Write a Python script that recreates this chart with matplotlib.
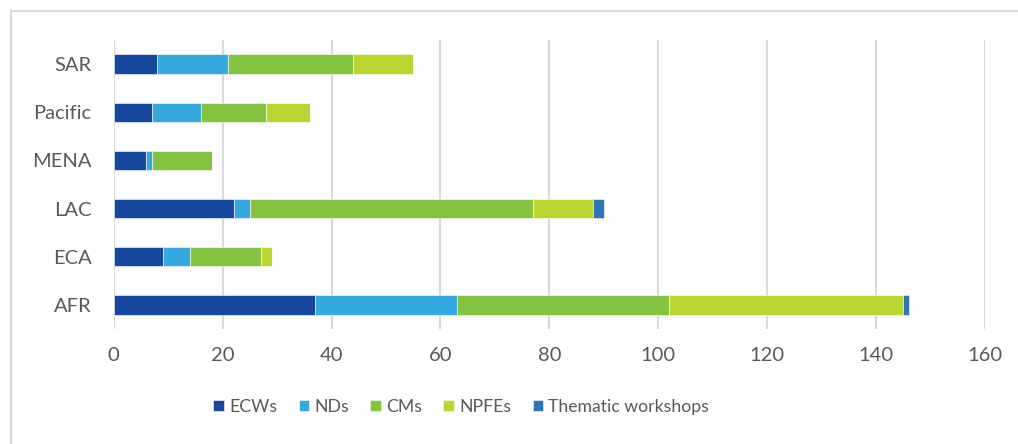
import numpy as np
import matplotlib.pyplot as plt
from matplotlib.lines import Line2D

# regions, bottom to top
regions = ["AFR", "ECA", "LAC", "MENA", "Pacific", "SAR"]
ecws = [37, 9, 22, 6, 7, 8]
nds = [26, 5, 3, 1, 9, 13]
cms = [39, 13, 52, 11, 12, 23]
npfes = [43, 2, 11, 0, 8, 11]
thematic = [1, 0, 2, 0, 0, 0]

series = [("ECWs", ecws, "#17479E"),
          ("NDs", nds, "#35A8DE"),
          ("CMs", cms, "#83C341"),
          ("NPFEs", npfes, "#BAD531"),
          ("Thematic workshops", thematic, "#2E75B6")]

plt.rcParams['font.family'] = ['Lato', 'DejaVu Sans']
fig = plt.figure(figsize=(10.18, 4.44), dpi=100)
ax = fig.add_axes([0.1117, 0.259, 0.8559, 0.651])

y = np.arange(len(regions))
left = np.zeros(len(regions))
for name, vals, col in series:
    ax.barh(y, vals, left=left, height=0.4, color=col, label=name,
            edgecolor='white', linewidth=0.4, zorder=3)
    left += np.array(vals)

ax.set_xlim(0, 160)
ax.set_ylim(-0.5, 5.5)
ax.set_xticks(range(0, 161, 20))
ax.set_yticks(y)
ax.set_yticklabels(regions)
ax.grid(axis='x', color='#D9D9D9', linewidth=1.5, zorder=0)
for s in ax.spines.values():
    s.set_visible(False)
ax.tick_params(length=0, labelsize=14.5, colors='#595959')
ax.tick_params(axis='x', pad=13)
ax.tick_params(axis='y', pad=16)

ax.legend(loc='center', bbox_to_anchor=(0.399, -0.27), ncol=5, frameon=False,
          fontsize=12.7, labelcolor='#595959', handlelength=0.6,
          handleheight=0.6, columnspacing=1.2, handletextpad=0.3)

# chart frame: only top and left edges visible
fx, fy = 11 / 1018, 1 - 11.5 / 444
fig.add_artist(Line2D([fx, 1], [fy, fy], transform=fig.transFigure,
                      color='#D9D9D9', linewidth=1.5))
fig.add_artist(Line2D([fx, fx], [0, fy], transform=fig.transFigure,
                      color='#D9D9D9', linewidth=1.5))

fig.savefig("out.png", dpi=100)
